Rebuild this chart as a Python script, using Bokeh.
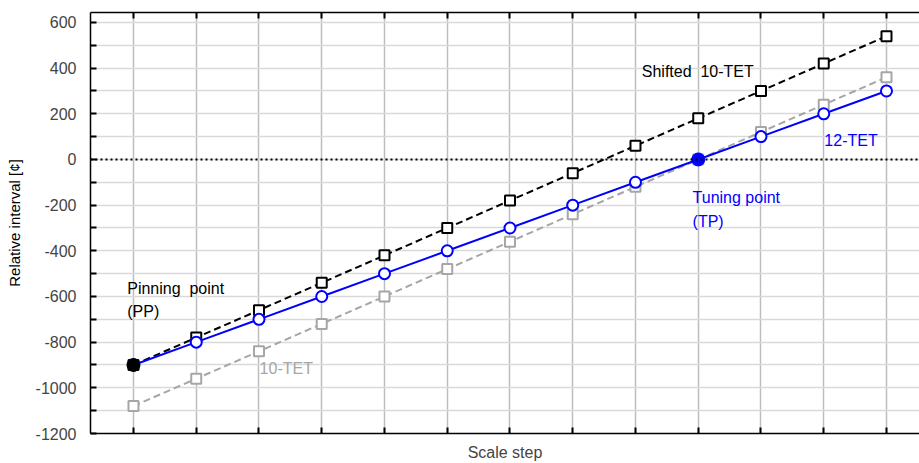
from bokeh.plotting import figure
from bokeh.models import LinearAxis, FixedTicker, Span, Label
from bokeh.embed import file_html
from bokeh.resources import INLINE

# ---- data ----
steps = list(range(13))
tet12 = [-900, -800, -700, -600, -500, -400, -300, -200, -100, 0, 100, 200, 300]
tet10 = [-1080, -960, -840, -720, -600, -480, -360, -240, -120, 0, 120, 240, 360]
shifted10 = [-900, -780, -660, -540, -420, -300, -180, -60, 60, 180, 300, 420, 540]
pinning_x, pinning_y = [0], [-900]
tuning_x, tuning_y = [9], [0]
y_ticks = list(range(-1200, 601, 100))
y_tick_labels = {v: (str(v) if v % 200 == 0 else "") for v in y_ticks}

FONT = "Liberation Sans"
GRAY = "#a6a6a6"
BLUE = "#0000ff"
NB = "\u00a0"

p = figure(width=919, height=463, x_range=(-0.685, 12.526), y_range=(-1200, 643.5),
           output_backend="svg", toolbar_location=None,
           min_border_left=90, min_border_right=0, min_border_top=12, min_border_bottom=27)
p.outline_line_color = None
p.background_fill_color = "white"

# axes
xa = p.xaxis[0]
xa.ticker = FixedTicker(ticks=steps)
xa.major_label_overrides = {s: "" for s in steps}
xa.major_label_text_font_size = "1px"
xa.major_tick_in = 6
xa.major_tick_out = 0
xa.major_tick_line_width = 2
xa.minor_tick_line_color = None
xa.axis_line_width = 1.5
xa.axis_line_color = "black"
xa.axis_label = "Scale step"
xa.axis_label_text_font = FONT
xa.axis_label_text_font_size = "16px"
xa.axis_label_text_font_style = "normal"
xa.axis_label_standoff = 10

top = LinearAxis(ticker=FixedTicker(ticks=steps), major_label_overrides={s: "" for s in steps},
                 major_label_text_font_size="1px", major_tick_in=6, major_tick_out=0,
                 major_tick_line_width=2, minor_tick_line_color=None, axis_line_width=1.5)
p.add_layout(top, "above")

ya = p.yaxis[0]
ya.ticker = FixedTicker(ticks=y_ticks)
ya.major_label_overrides = y_tick_labels
ya.major_tick_in = 6
ya.major_tick_out = 0
ya.major_tick_line_width = 2
ya.minor_tick_line_color = None
ya.axis_line_width = 1.5
ya.axis_line_color = "black"
ya.major_label_text_font = FONT
ya.major_label_text_font_size = "16px"
ya.major_label_standoff = 14

# label-only axis: bounds centre the title slightly above the frame centre, as in the original
title_axis = LinearAxis(ticker=FixedTicker(ticks=[]), bounds=(-1000, 644),
                        axis_line_color=None, major_tick_line_color=None,
                        minor_tick_line_color=None, major_label_text_font_size="1px",
                        axis_label="Relative interval [¢]", axis_label_text_font=FONT,
                        axis_label_text_font_size="15px", axis_label_text_font_style="normal",
                        axis_label_text_color="black", axis_label_standoff=10)
p.add_layout(title_axis, "left")

p.xgrid.grid_line_color = "#bdbdbd"
p.xgrid.grid_line_width = 1.5
p.ygrid.grid_line_color = "#d9d9d9"
p.ygrid.grid_line_width = 1.5

p.add_layout(Span(location=0, dimension="width", line_color="black",
                  line_dash="2 3", line_width=2))

# series
p.line(steps, tet10, line_color=GRAY, line_width=2, line_dash="7 4")
p.scatter(steps, tet10, marker="square", size=10, fill_color="white",
          line_color=GRAY, line_width=2)

p.line(steps, shifted10, line_color="black", line_width=2, line_dash="7 4")
p.scatter(steps, shifted10, marker="square", size=10, fill_color="white",
          line_color="black", line_width=2)

p.line(steps, tet12, line_color=BLUE, line_width=2)
p.scatter(steps, tet12, marker="circle", size=11, fill_color="white",
          line_color=BLUE, line_width=2)

p.scatter(pinning_x, pinning_y, marker="circle", size=13, fill_color="black", line_color="black")
p.scatter(tuning_x, tuning_y, marker="circle", size=13, fill_color=BLUE, line_color=BLUE)

# annotations
def lab(x, y, t, c):
    p.add_layout(Label(x=x, y=y, text=t, text_color=c, text_font=FONT,
                       text_font_size="16px", text_baseline="middle", text_align="left"))

lab(8.1, 383, "Shifted" + NB + " 10-TET", "black")
lab(11.01, 83, "12-TET", BLUE)
lab(8.91, -165, "Tuning point", BLUE)
lab(8.91, -270, "(TP)", BLUE)
lab(-0.1, -565, "Pinning" + NB + " point", "black")
lab(-0.1, -665, "(PP)", "black")
lab(2.01, -917, "10-TET", GRAY)

open("out.html", "w").write(file_html(p, INLINE))
